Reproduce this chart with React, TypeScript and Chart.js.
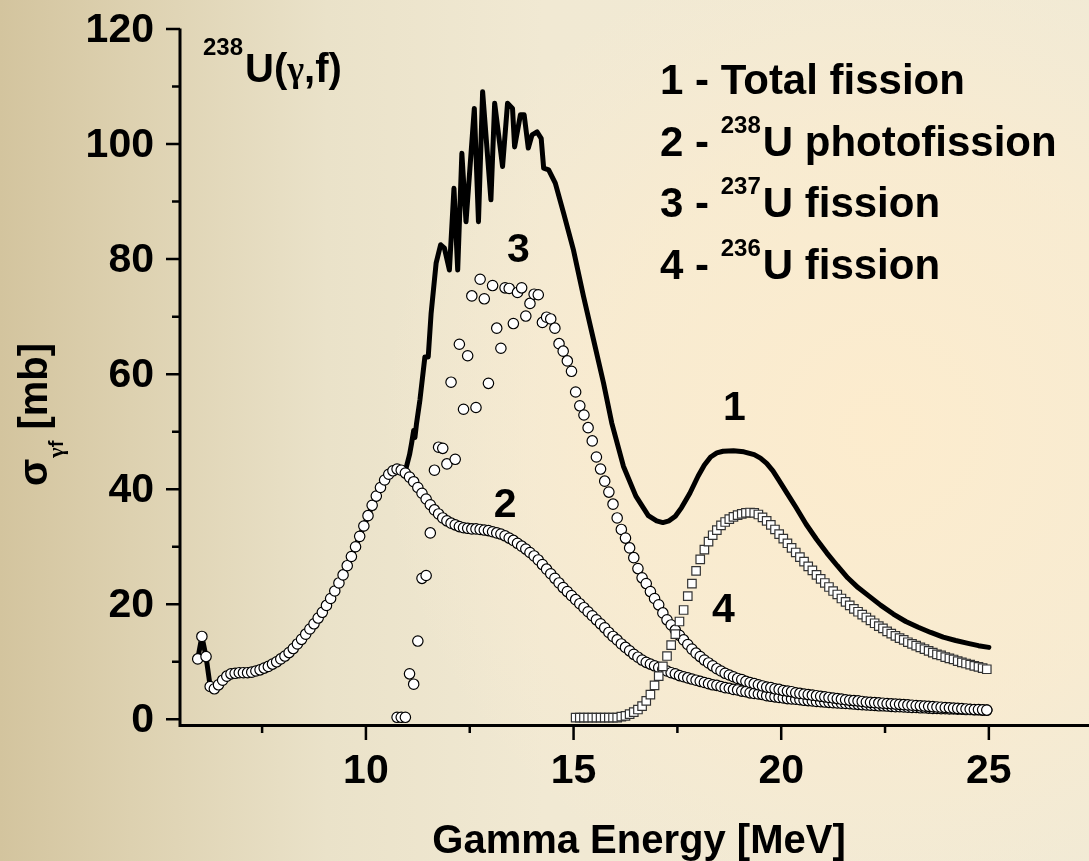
import React, { useEffect, useRef } from "react";
import { Chart, registerables } from "chart.js";

Chart.register(...registerables);

// Energy grid (MeV) shared by the point series
const ENERGY_GRID = [
  5.95, 6.05, 6.15, 6.25, 6.35, 6.45, 6.55, 6.65, 6.75, 6.85,
  6.95, 7.05, 7.15, 7.25, 7.35, 7.45, 7.55, 7.65, 7.75, 7.85,
  7.95, 8.05, 8.15, 8.25, 8.35, 8.45, 8.55, 8.65, 8.75, 8.85,
  8.95, 9.05, 9.15, 9.25, 9.35, 9.45, 9.55, 9.65, 9.75, 9.85,
  9.95, 10.05, 10.15, 10.25, 10.35, 10.45, 10.55, 10.65, 10.75, 10.85,
  10.95, 11.05, 11.15, 11.25, 11.35, 11.45, 11.55, 11.65, 11.75, 11.85,
  11.95, 12.05, 12.15, 12.25, 12.35, 12.45, 12.55, 12.65, 12.75, 12.85,
  12.95, 13.05, 13.15, 13.25, 13.35, 13.45, 13.55, 13.65, 13.75, 13.85,
  13.95, 14.05, 14.15, 14.25, 14.35, 14.45, 14.55, 14.65, 14.75, 14.85,
  14.95, 15.05, 15.15, 15.25, 15.35, 15.45, 15.55, 15.65, 15.75, 15.85,
  15.95, 16.05, 16.15, 16.25, 16.35, 16.45, 16.55, 16.65, 16.75, 16.85,
  16.95, 17.05, 17.15, 17.25, 17.35, 17.45, 17.55, 17.65, 17.75, 17.85,
  17.95, 18.05, 18.15, 18.25, 18.35, 18.45, 18.55, 18.65, 18.75, 18.85,
  18.95, 19.05, 19.15, 19.25, 19.35, 19.45, 19.55, 19.65, 19.75, 19.85,
  19.95, 20.05, 20.15, 20.25, 20.35, 20.45, 20.55, 20.65, 20.75, 20.85,
  20.95, 21.05, 21.15, 21.25, 21.35, 21.45, 21.55, 21.65, 21.75, 21.85,
  21.95, 22.05, 22.15, 22.25, 22.35, 22.45, 22.55, 22.65, 22.75, 22.85,
  22.95, 23.05, 23.15, 23.25, 23.35, 23.45, 23.55, 23.65, 23.75, 23.85,
  23.95, 24.05, 24.15, 24.25, 24.35, 24.45, 24.55, 24.65, 24.75, 24.85,
  24.95,
];

// 2 - 238U photofission (mb), one value per grid energy from 5.95 MeV
const XS_U238_PHOTO = [
  10.5, 14.4, 10.9, 5.7, 5.3, 6.0, 6.8, 7.5, 7.9, 8.0,
  8.1, 8.1, 8.1, 8.2, 8.4, 8.6, 8.9, 9.2, 9.6, 10.0,
  10.5, 11.0, 11.6, 12.3, 13.1, 13.9, 14.8, 15.7, 16.6, 17.6,
  18.6, 19.8, 21.0, 22.3, 23.7, 25.1, 26.7, 28.3, 30.0, 31.8,
  33.6, 35.4, 37.2, 38.8, 40.3, 41.6, 42.6, 43.2, 43.5, 43.3,
  42.8, 42.1, 41.3, 40.3, 39.3, 38.3, 37.3, 36.4, 35.7, 35.0,
  34.5, 34.1, 33.8, 33.5, 33.3, 33.2, 33.1, 33.1, 33.0, 32.9,
  32.8, 32.6, 32.4, 32.2, 31.9, 31.5, 31.1, 30.6, 30.1, 29.6,
  29.0, 28.4, 27.7, 26.9, 26.1, 25.3, 24.5, 23.7, 22.9, 22.2,
  21.5, 20.8, 20.1, 19.4, 18.7, 18.0, 17.3, 16.6, 15.9, 15.1,
  14.4, 13.8, 13.1, 12.5, 11.9, 11.3, 10.8, 10.3, 9.9, 9.6,
  9.3, 9.0, 8.7, 8.4, 8.1, 7.9, 7.6, 7.4, 7.2, 7.0,
  6.8, 6.6, 6.4, 6.2, 6.0, 5.9, 5.7, 5.5, 5.4, 5.2,
  5.1, 4.9, 4.8, 4.6, 4.5, 4.4, 4.3, 4.1, 4.0, 3.9,
  3.8, 3.7, 3.6, 3.55, 3.5, 3.4, 3.3, 3.25, 3.2, 3.1,
  3.05, 3.0, 2.95, 2.9, 2.85, 2.8, 2.75, 2.7, 2.65, 2.6,
  2.55, 2.5, 2.45, 2.4, 2.35, 2.35, 2.3, 2.25, 2.2, 2.2,
  2.15, 2.1, 2.05, 2.05, 2.0, 2.0, 1.95, 1.9, 1.9, 1.85,
  1.85, 1.8, 1.8, 1.75, 1.75, 1.7, 1.7, 1.65, 1.65, 1.6,
  1.6,
];

// 3 - 237U fission (mb), grid energies from 10.75 MeV
const XS_U237 = [
  0.35, 0.35, 0.35, 7.9, 6.1, 13.6, 24.5, 25.0, 32.4, 43.3,
  47.3, 47.1, 44.4, 58.6, 45.2, 65.2, 53.9, 63.2, 73.6, 54.2,
  76.5, 73.1, 58.4, 75.4, 68.0, 64.5, 75.0, 74.9, 68.8, 74.2,
  75.0, 70.1, 72.3, 73.9, 73.8, 69.0, 69.9, 69.6, 68.0, 65.3,
  64.0, 62.3, 60.5, 56.9, 54.5, 52.9, 50.7, 48.4, 45.6, 43.5,
  41.4, 39.5, 37.4, 35.0, 33.0, 31.5, 29.8, 28.1, 26.2, 24.6,
  23.6, 22.2, 21.0, 19.9, 18.5, 17.3, 16.4, 15.5, 14.6, 13.8,
  13.0, 12.2, 11.5, 10.9, 10.3, 9.8, 9.3, 8.8, 8.4, 8.0,
  7.7, 7.4, 7.1, 6.9, 6.6, 6.4, 6.2, 6.0, 5.8, 5.6,
  5.5, 5.3, 5.2, 5.0, 4.9, 4.8, 4.6, 4.5, 4.4, 4.3,
  4.2, 4.1, 4.0, 3.9, 3.8, 3.7, 3.6, 3.5, 3.4, 3.3,
  3.25, 3.2, 3.1, 3.0, 2.95, 2.9, 2.85, 2.8, 2.75, 2.7,
  2.65, 2.6, 2.55, 2.5, 2.45, 2.4, 2.35, 2.3, 2.25, 2.2,
  2.15, 2.1, 2.05, 2.0, 1.95, 1.9, 1.85, 1.8, 1.75, 1.7,
  1.7, 1.65, 1.6,
];

// 4 - 236U fission (mb), grid energies from 15.05 MeV
const XS_U236 = [
  0.3, 0.3, 0.3, 0.3, 0.3, 0.3, 0.3, 0.3, 0.3, 0.3,
  0.3, 0.45, 0.6, 0.9, 1.25, 1.7, 2.3, 3.2, 4.3, 5.9,
  7.5, 9.2, 11.0, 12.9, 14.8, 17.0, 19.0, 21.4, 23.6, 25.8,
  27.8, 29.5, 30.9, 32.0, 32.9, 33.7, 34.3, 34.8, 35.2, 35.5,
  35.7, 35.9, 35.95, 35.9, 35.6, 35.1, 34.5, 33.8, 33.0, 32.2,
  31.4, 30.6, 29.8, 29.0, 28.2, 27.4, 26.6, 25.9, 25.1, 24.4,
  23.7, 23.0, 22.3, 21.7, 21.0, 20.4, 19.8, 19.2, 18.7, 18.2,
  17.7, 17.2, 16.7, 16.2, 15.8, 15.3, 14.9, 14.5, 14.1, 13.8,
  13.4, 13.1, 12.8, 12.5, 12.2, 11.9, 11.6, 11.3, 11.1, 10.8,
  10.6, 10.4, 10.1, 9.9, 9.7, 9.5, 9.3, 9.1, 8.9, 8.7,
];

// 1 - total fission curve: energies (MeV) and cross sections (mb)
const TOTAL_E = [
  5.95, 6.05, 6.15, 6.25, 6.35, 6.45, 6.55, 6.65, 6.75, 6.95,
  7.25, 7.55, 7.85, 8.15, 8.45, 8.75, 9.05, 9.35, 9.65, 9.95,
  10.25, 10.55, 10.75, 10.95, 11.05, 11.1, 11.15, 11.18, 11.22, 11.3,
  11.42, 11.5, 11.57, 11.69, 11.8, 11.89, 12.01, 12.12, 12.21, 12.31,
  12.41, 12.61, 12.71, 12.81, 13.01, 13.1, 13.29, 13.41, 13.53, 13.58,
  13.72, 13.81, 13.91, 14.0, 14.12, 14.22, 14.28, 14.4, 14.56, 14.76,
  15.0, 15.24, 15.48, 15.72, 15.92, 16.2, 16.5, 16.8, 17.0, 17.15,
  17.3, 17.45, 17.6, 17.8, 18.0, 18.15, 18.3, 18.45, 18.6, 18.85,
  19.1, 19.35, 19.5, 19.65, 19.8, 19.95, 20.15, 20.35, 20.6, 20.85,
  21.1, 21.35, 21.6, 21.85, 22.1, 22.4, 22.7, 23.0, 23.3, 23.6,
  23.9, 24.2, 24.5, 24.75, 25.0,
];
const TOTAL_XS = [
  10.5, 14.4, 10.9, 5.7, 5.3, 6.0, 6.8, 7.5, 7.9, 8.1,
  8.2, 8.9, 10.0, 11.6, 13.9, 16.6, 19.8, 23.7, 28.3, 33.6,
  38.8, 42.6, 43.5, 43.2, 46.0, 48.0, 50.2, 49.0, 51.5, 55.5,
  63.0, 63.0, 70.6, 79.3, 82.5, 81.9, 78.1, 92.3, 78.1, 98.4,
  86.5, 106.2, 86.5, 109.1, 90.3, 107.1, 96.1, 107.1, 106.2, 99.5,
  105.1, 105.1, 99.3, 101.6, 102.1, 101.0, 95.8, 95.5, 93.2, 88.0,
  81.5, 73.5, 66.0, 58.5, 51.5, 44.0, 38.8, 35.4, 34.5, 34.2,
  34.5, 35.3, 36.8, 39.3, 42.3, 44.2, 45.6, 46.3, 46.6, 46.7,
  46.5, 46.0, 45.4, 44.5, 43.2, 41.5, 39.2, 36.9, 33.9, 31.3,
  28.9, 26.7, 24.6, 22.9, 21.5, 19.8, 18.3, 17.0, 16.0, 15.1,
  14.3, 13.7, 13.2, 12.8, 12.5,
];

const X_MAJOR_TICKS = [10, 15, 20, 25];
const X_MINOR_TICKS = [7.5, 12.5, 17.5, 22.5];
const Y_MAJOR_TICKS = [0, 20, 40, 60, 80, 100, 120];
const Y_MINOR_TICKS = [10, 30, 50, 70, 90, 110];

const LEGEND_ROWS = [
  { num: "1 - ", sup: "", text: "Total fission" },
  { num: "2 - ", sup: "238", text: "U photofission" },
  { num: "3 - ", sup: "237", text: "U fission" },
  { num: "4 - ", sup: "236", text: "U fission" },
];

// Curve numbers placed beside their curves (energy, cross section at text baseline)
const CURVE_TAGS = [
  { text: "1", e: 18.87, xs: 52.0 },
  { text: "2", e: 13.35, xs: 35.2 },
  { text: "3", e: 13.67, xs: 79.5 },
  { text: "4", e: 18.61, xs: 17.0 },
];

const FONT = '"Liberation Sans", Arial, Helvetica, sans-serif';
const GREEK_FONT = '"Liberation Serif", "DejaVu Serif", serif';
const W = 1089;
const H = 861;

const points = (energies: number[], values: number[]) =>
  values.map((v, i) => ({ x: energies[i], y: v }));

// Draws text pieces one after another, each with its own font and vertical shift
const drawRun = (ctx: any, x: number, y: number, parts: { t: string; font: string; dy?: number; gap?: number }[]) => {
  let cx = x;
  parts.forEach((p) => {
    ctx.font = p.font;
    ctx.fillText(p.t, cx, y + (p.dy || 0));
    cx += ctx.measureText(p.t).width + (p.gap || 0);
  });
  return cx;
};

const figurePlugin = {
  id: "figureDecor",
  beforeDraw(chart: any) {
    const { ctx, width, height } = chart;
    ctx.save();
    const lg = ctx.createLinearGradient(0, 0, width, 0);
    lg.addColorStop(0, "rgb(211,196,158)");
    lg.addColorStop(0.12, "rgb(221,209,176)");
    lg.addColorStop(0.3, "rgb(234,226,201)");
    lg.addColorStop(0.5, "rgb(241,233,211)");
    lg.addColorStop(1, "rgb(241,234,213)");
    ctx.fillStyle = lg;
    ctx.fillRect(0, 0, width, height);
    const rg = ctx.createRadialGradient(880, 430, 0, 880, 430, 500);
    rg.addColorStop(0, "rgba(253,236,205,0.95)");
    rg.addColorStop(0.6, "rgba(252,236,207,0.6)");
    rg.addColorStop(1, "rgba(250,236,210,0)");
    ctx.fillStyle = rg;
    ctx.fillRect(0, 0, width, height);
    ctx.restore();
  },
  afterDraw(chart: any) {
    const { ctx, chartArea, scales, width } = chart;
    const xs = scales.x;
    const ys = scales.y;
    const left = chartArea.left;
    const bottom = chartArea.bottom;
    ctx.save();
    ctx.strokeStyle = "#000";
    ctx.fillStyle = "#000";

    // axis lines
    ctx.lineWidth = 3;
    ctx.beginPath();
    ctx.moveTo(left, chartArea.top - 0.5);
    ctx.lineTo(left, bottom + 2);
    ctx.moveTo(left - 1.5, bottom + 0.5);
    ctx.lineTo(width, bottom + 0.5);
    ctx.stroke();

    // tick marks
    ctx.lineWidth = 2.5;
    ctx.beginPath();
    X_MAJOR_TICKS.forEach((t) => {
      const px = xs.getPixelForValue(t);
      ctx.moveTo(px, bottom);
      ctx.lineTo(px, bottom + 15);
    });
    X_MINOR_TICKS.forEach((t) => {
      const px = xs.getPixelForValue(t);
      ctx.moveTo(px, bottom);
      ctx.lineTo(px, bottom + 8);
    });
    Y_MAJOR_TICKS.forEach((t) => {
      const py = ys.getPixelForValue(t);
      ctx.moveTo(left, py);
      ctx.lineTo(left - 14, py);
    });
    Y_MINOR_TICKS.forEach((t) => {
      const py = ys.getPixelForValue(t);
      ctx.moveTo(left, py);
      ctx.lineTo(left - 8, py);
    });
    ctx.stroke();

    // tick labels
    ctx.font = `bold 41px ${FONT}`;
    ctx.textBaseline = "alphabetic";
    ctx.textAlign = "right";
    Y_MAJOR_TICKS.forEach((t) => {
      const py = ys.getPixelForValue(t);
      ctx.fillText(String(t), left - 26, py + 12.5);
    });
    ctx.textAlign = "center";
    X_MAJOR_TICKS.forEach((t) => {
      const px = xs.getPixelForValue(t);
      ctx.fillText(String(t), px, bottom + 58);
    });

    // x axis title
    ctx.font = `bold 40px ${FONT}`;
    ctx.fillText("Gamma Energy [MeV]", 639, 853);

    // y axis title, rotated
    ctx.save();
    ctx.translate(47, 486);
    ctx.rotate(-Math.PI / 2);
    ctx.textAlign = "left";
    drawRun(ctx, 0, 0, [
      { t: "σ", font: `bold 40px ${FONT}`, gap: 1 },
      { t: "γ", font: `bold 22px ${GREEK_FONT}`, dy: 16 },
      { t: "f", font: `bold 20px ${FONT}`, dy: 16 },
      { t: " [mb]", font: `bold 40px ${FONT}` },
    ]);
    ctx.restore();

    // reaction label
    ctx.textAlign = "left";
    const ux = drawRun(ctx, 203, 55, [{ t: "238", font: `bold 24px ${FONT}`, gap: 2 }]);
    drawRun(ctx, ux, 82, [
      { t: "U(", font: `bold 40px ${FONT}` },
      { t: "γ", font: `bold 36px ${GREEK_FONT}`, dy: -1 },
      { t: ",f)", font: `bold 40px ${FONT}` },
    ]);

    // legend rows
    LEGEND_ROWS.forEach((row, i) => {
      const base = 94 + i * 61.7;
      let x = drawRun(ctx, 660, base, [{ t: row.num, font: `bold 42px ${FONT}` }]);
      if (row.sup) {
        x = drawRun(ctx, x, base - 23, [{ t: row.sup, font: `bold 24px ${FONT}`, gap: 2 }]);
      }
      drawRun(ctx, x, base, [{ t: row.text, font: `bold 42px ${FONT}` }]);
    });

    // curve numbers
    ctx.textAlign = "center";
    ctx.font = `bold 41px ${FONT}`;
    CURVE_TAGS.forEach((tag) => {
      ctx.fillText(tag.text, xs.getPixelForValue(tag.e), ys.getPixelForValue(tag.xs));
    });
    ctx.restore();
  },
};

export default function App() {
  const canvasRef = useRef<HTMLCanvasElement | null>(null);

  useEffect(() => {
    const canvas = canvasRef.current;
    if (!canvas) return;
    const e237 = ENERGY_GRID.slice(ENERGY_GRID.indexOf(10.75));
    const e236 = ENERGY_GRID.slice(ENERGY_GRID.indexOf(15.05));
    const circle = {
      showLine: false,
      pointStyle: "circle",
      pointRadius: 5.2,
      pointBorderWidth: 1.2,
      pointBackgroundColor: "#fff",
      pointBorderColor: "#000",
    };
    const chart = new Chart(canvas, {
      type: "scatter",
      data: {
        datasets: [
          {
            label: "Total fission",
            data: points(TOTAL_E, TOTAL_XS),
            showLine: true,
            borderColor: "#000",
            borderWidth: 5,
            borderJoinStyle: "round",
            borderCapStyle: "round",
            tension: 0,
            pointRadius: 0,
            order: 4,
          },
          { label: "238U photofission", data: points(ENERGY_GRID, XS_U238_PHOTO), ...circle, order: 3 },
          { label: "237U fission", data: points(e237, XS_U237), ...circle, order: 2 },
          {
            label: "236U fission",
            data: points(e236, XS_U236),
            showLine: false,
            pointStyle: "rect",
            pointRadius: 6,
            pointBorderWidth: 1.2,
            pointBackgroundColor: "#fff",
            pointBorderColor: "#333",
            order: 1,
          },
        ],
      } as any,
      options: {
        responsive: false,
        animation: false,
        devicePixelRatio: 1,
        events: [],
        layout: { padding: { left: 180, top: 29, right: 0, bottom: 136 } },
        plugins: { legend: { display: false }, tooltip: { enabled: false } },
        scales: {
          x: { type: "linear", min: 5.523, max: 27.238, display: false },
          y: { type: "linear", min: -0.99, max: 120, display: false },
        },
      } as any,
      plugins: [figurePlugin],
    });
    return () => chart.destroy();
  }, []);

  return (
    <div style={{ position: "fixed", left: 0, top: 0, width: W, height: H }}>
      <canvas ref={canvasRef} width={W} height={H} style={{ display: "block", width: W, height: H }} />
    </div>
  );
}
